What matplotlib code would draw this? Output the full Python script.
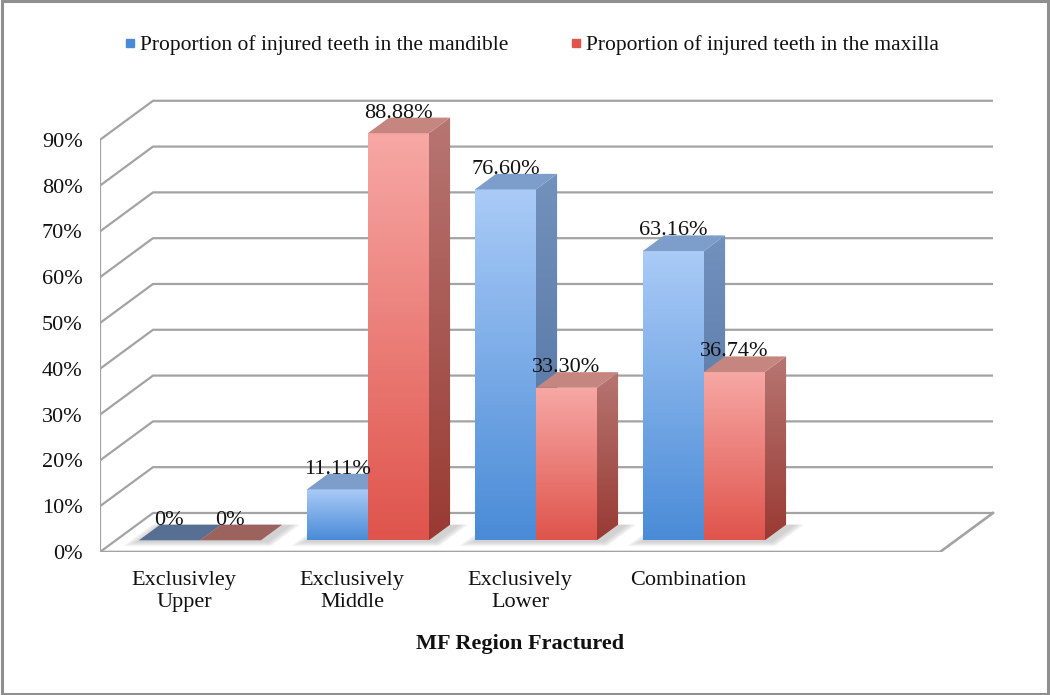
import numpy as np
import matplotlib
matplotlib.use('Agg')
import matplotlib.pyplot as plt
from matplotlib.patches import Polygon, Rectangle
from matplotlib.colors import LinearSegmentedColormap
from matplotlib.lines import Line2D

categories = ['Exclusivley\nUpper', 'Exclusively\nMiddle', 'Exclusively\nLower', 'Combination']
mandible = [0, 11.11, 76.60, 63.16]
maxilla = [0, 88.88, 33.30, 36.74]
mandible_labels = ['0%', '11.11%', '76.60%', '63.16%']
maxilla_labels = ['0%', '88.88%', '33.30%', '36.74%']
yticks = [0, 10, 20, 30, 40, 50, 60, 70, 80, 90]
series_names = ['Proportion of injured teeth in the mandible',
                'Proportion of injured teeth in the maxilla']
x_title = 'MF Region Fractured'
n_slots = 5  # the floor leaves room for one empty category

plt.rcParams['font.family'] = ['Liberation Serif', 'DejaVu Serif']
FS = 16

# oblique "3d" look: depth z in [0, 1] shifts points right and up
DX, DY = 0.3155, 8.52
ZF, ZB = 0.3, 0.7
BW = 0.363
GRID = '#a3a3a3'

# front / side gradient (top, bottom) and top face colour per series
styles = [
    dict(front=('#aacbf7', '#4a8bd7'), side=('#7391bd', '#4d6e9c'), top='#7d9dca', flat='#566f92'),
    dict(front=('#f7a8a5', '#df544c'), side=('#b77672', '#993a33'), top='#c58680', flat='#9b625e'),
]


def proj(x, y, z):
    return (x + z * DX, y + z * DY)


def grad_poly(ax, pts, c_top, c_bot, zo):
    poly = Polygon(pts, closed=True, facecolor='none', edgecolor='none', zorder=zo)
    ax.add_patch(poly)
    xs = [p[0] for p in pts]
    ys = [p[1] for p in pts]
    cmap = LinearSegmentedColormap.from_list('g', [c_bot, c_top])
    grad = np.linspace(0, 1, 256).reshape(-1, 1)
    im = ax.imshow(grad, cmap=cmap, origin='lower', aspect='auto', zorder=zo,
                   extent=(min(xs), max(xs), min(ys), max(ys)), interpolation='bilinear')
    im.set_clip_path(poly)


W, H = 1050, 695
fig = plt.figure(figsize=(W / 100, H / 100), dpi=100)
ax = fig.add_axes([100 / W, (H - 552) / H, 900 / W, 458 / H])
xmax = 900 / 168
ymax = 458 / 4.58

# walls and floor
for v in yticks:
    ax.plot([0, DX, n_slots + DX], [v, v + DY, v + DY], color=GRID, lw=1.6, zorder=1,
            solid_capstyle='butt')
ax.plot([0, 0], [0, yticks[-1]], color=GRID, lw=1.6, zorder=1)
ax.plot([0, n_slots, n_slots + DX], [0, 0, DY], color=GRID, lw=1.9, zorder=1)

# soft shadows on the floor
for i in range(len(categories)):
    xl = i + 0.5 - BW
    xr = i + 0.5 + BW
    for k in range(5):
        g = 0.012 * k
        pts = [proj(xl - g, 0, ZF - 0.05 - 2 * g), proj(xr + 0.06 + g, 0, ZF - 0.05 - 2 * g),
               proj(xr + 0.06 + g, 0, ZB), proj(xl - g, 0, ZB)]
        ax.add_patch(Polygon(pts, closed=True, facecolor='#9a9a9a', edgecolor='none',
                             alpha=0.1, zorder=2))

# bars
zo = 3
for i in range(len(categories)):
    for s, (vals, labs) in enumerate([(mandible, mandible_labels), (maxilla, maxilla_labels)]):
        st = styles[s]
        v = vals[i]
        xl = i + 0.5 - BW + s * BW
        xr = xl + BW
        top = [proj(xl, v, ZF), proj(xr, v, ZF), proj(xr, v, ZB), proj(xl, v, ZB)]
        if v > 0:
            front = [proj(xl, 0, ZF), proj(xr, 0, ZF), proj(xr, v, ZF), proj(xl, v, ZF)]
            side = [proj(xr, 0, ZF), proj(xr, 0, ZB), proj(xr, v, ZB), proj(xr, v, ZF)]
            grad_poly(ax, front, st['front'][0], st['front'][1], zo)
            grad_poly(ax, side, st['side'][0], st['side'][1], zo)
            ax.add_patch(Polygon(top, closed=True, facecolor=st['top'], edgecolor='none', zorder=zo))
        else:
            ax.add_patch(Polygon(top, closed=True, facecolor=st['flat'], edgecolor='none', zorder=zo))
        zo += 1
        lx, ly = proj(xl + BW / 2, v, ZB)
        ax.text(lx - (ZB - ZF) * DX, ly, labs[i], ha='center', va='baseline',
                fontsize=FS, color='#111111', zorder=50)

ax.set_xlim(0, xmax)
ax.set_ylim(0, ymax)
ax.set_yticks(yticks, [f'{v}%' for v in yticks])
ax.set_xticks([i + 0.5 for i in range(len(categories))], categories)
ax.tick_params(length=0, labelsize=FS, labelcolor='#111111')
ax.tick_params(axis='y', pad=12.5)
ax.tick_params(axis='x', pad=13.5)
for lbl in ax.get_xticklabels():
    lbl.set_linespacing(1.2)
for sp in ax.spines.values():
    sp.set_visible(False)

ax.text(n_slots / 2, -(644 - 552) / 4.58, x_title, ha='center', va='center',
        fontsize=FS, fontweight='bold', color='#111111', clip_on=False)

handles = [Line2D([], [], marker='s', ls='none', markersize=5.5, color=styles[0]['front'][1]),
           Line2D([], [], marker='s', ls='none', markersize=5.5, color=styles[1]['front'][1])]
fig.legend(handles, series_names, loc='center', bbox_to_anchor=(532 / W, 1 - 45 / H), ncol=2,
           frameon=False, fontsize=15.5, handlelength=0.5, handletextpad=0.2,
           columnspacing=2.9, labelcolor='#111111')

fig.patches.append(Rectangle((0.0015, 0.002), 0.997, 0.996, transform=fig.transFigure,
                             fill=False, edgecolor='#8f8f8f', lw=2.2))

fig.savefig('out.png', dpi=100)
